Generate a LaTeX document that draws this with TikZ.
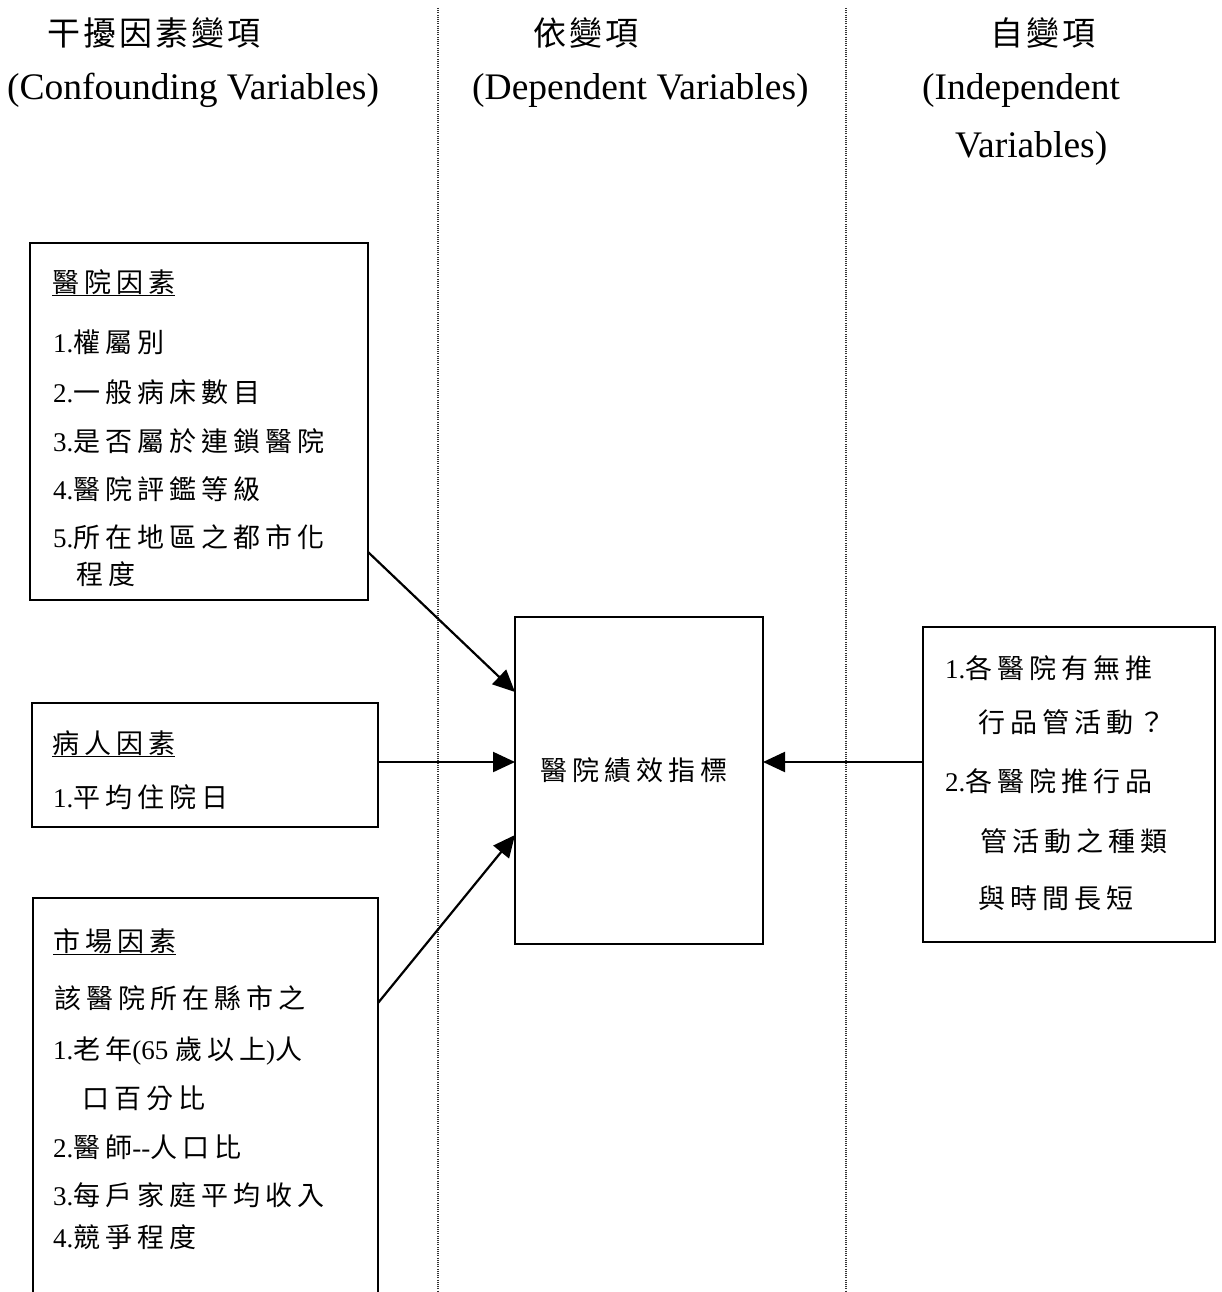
\documentclass[tikz,border=0pt]{standalone}
\usepackage{fontspec}
\setmainfont{Liberation Serif}
\newfontfamily\zh[LetterSpace=18.5]{Noto Sans CJK TC}
\newfontfamily\zhh[LetterSpace=9]{Noto Sans CJK TC}
\usetikzlibrary{arrows.meta}
\tikzset{
  box/.style={draw, line width=2.2pt, inner sep=0pt, outer sep=0pt, anchor=north west},
  frame/.style={inner sep=0pt, outer sep=0pt, anchor=north west},
  txt/.style={anchor=base west, inner sep=0pt, font=\fontsize{27}{32}\selectfont},
  headzh/.style={anchor=base west, inner sep=0pt, font=\fontsize{33}{38}\selectfont\zhh},
  headen/.style={anchor=base west, inner sep=0pt, font=\fontsize{37.5}{44}\selectfont},
  arr/.style={line width=2.2pt, -{Triangle[length=22pt,width=20pt]}},
  divider/.style={line width=1.2pt, dash pattern=on 1pt off 1.2pt, black!80}
}
\begin{document}
\begin{tikzpicture}[x=1pt,y=-1pt]
\useasboundingbox (0,0) rectangle (1221,1292);
% dividers
\coordinate (d1t) at (438,8); \coordinate (d1b) at (438,1292);
\coordinate (d2t) at (846,8); \coordinate (d2b) at (846,1292);
\draw[divider] (d1t) -- (d1b);
\draw[divider] (d2t) -- (d2b);
% headers
\node[headzh] (h1) at (47,46) {干擾因素變項};
\node[headen] (h1e) at (7,100) {(Confounding Variables)};
\node[headzh] (h2) at (533,46) {依變項};
\node[headen] (h2e) at (472,100) {(Dependent Variables)};
\node[headzh] (h3) at (990,46) {自變項};
\node[headen] (h3e) at (922,100) {(Independent};
\node[headen] (h3f) at (955,158) {Variables)};
% box 1
\node[box, minimum width=338pt, minimum height=357pt] (box1) at (30,243) {};
\node[txt] (t11) at (52,292) {\underline{\zh 醫院因素}};
\node[txt] (t12) at (53,352) {1.{\zh 權屬別}};
\node[txt] (t13) at (53,402) {2.{\zh 一般病床數目}};
\node[txt] (t14) at (53,451) {3.{\zh 是否屬於連鎖醫院}};
\node[txt] (t15) at (53,499) {4.{\zh 醫院評鑑等級}};
\node[txt] (t16) at (53,547) {5.{\zh 所在地區之都市化}};
\node[txt] (t17) at (76,584) {{\zh 程度}};
% box 2
\node[box, minimum width=346pt, minimum height=124pt] (box2) at (32,703) {};
\node[txt] (t21) at (52,753) {\underline{\zh 病人因素}};
\node[txt] (t22) at (53,807) {1.{\zh 平均住院日}};
% box 3 (open at the bottom)
\node[frame, minimum width=345pt, minimum height=394pt] (box3) at (33,898) {};
\draw[line width=2.2pt] (box3.south west) -- (box3.north west) -- (box3.north east) -- (box3.south east);
\node[txt] (t31) at (53,951) {\underline{\zh 市場因素}};
\node[txt] (t32) at (54,1008) {{\zh 該醫院所在縣市之}};
\node[txt] (t33) at (53,1059) {1.{\zh 老年}(65 {\zh 歲以上})\zh 人};
\node[txt] (t34) at (82,1108) {{\zh 口百分比}};
\node[txt] (t35) at (53,1157) {2.{\zh 醫師}-{}-{\zh 人口比}};
\node[txt] (t36) at (53,1205) {3.{\zh 每戶家庭平均收入}};
\node[txt] (t37) at (53,1247) {4.{\zh 競爭程度}};
% centre box
\node[box, minimum width=248pt, minimum height=327pt] (dep) at (515,617) {};
\node[txt] (tc) at (540,780) {{\zh 醫院績效指標}};
% right box
\node[box, minimum width=292pt, minimum height=315pt] (ind) at (923,627) {};
\node[txt] (t41) at (945,678) {1.{\zh 各醫院有無推}};
\node[txt] (t42) at (978,732) {{\zh 行品管活動？}};
\node[txt] (t43) at (945,791) {2.{\zh 各醫院推行品}};
\node[txt] (t44) at (980,851) {{\zh 管活動之種類}};
\node[txt] (t45) at (978,908) {{\zh 與時間長短}};
% arrows
\draw[arr] ([yshift=48pt]box1.south east) -- ([yshift=-75pt]dep.north west);
\draw[arr] ([yshift=3pt]box2.east) -- ([yshift=3pt]box2.east -| dep.west);
\draw[arr] ([yshift=-105pt]box3.north east) -- ([yshift=-218pt]dep.north west);
\draw[arr] ([yshift=3pt]box2.east -| ind.west) -- ([yshift=3pt]box2.east -| dep.east);
\end{tikzpicture}
\end{document}
